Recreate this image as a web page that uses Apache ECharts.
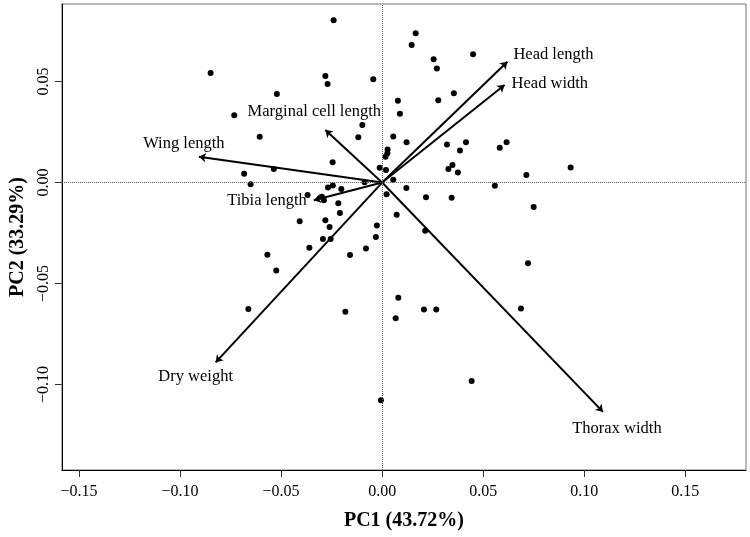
<!DOCTYPE html>
<html>
<head>
<meta charset="utf-8">
<script src="https://cdn.jsdelivr.net/npm/echarts@6/dist/echarts.min.js"></script>
<style>
html,body{margin:0;padding:0;background:#fff;}
#chart{width:750px;height:537px;}
</style>
</head>
<body>
<div id="chart"></div>
<script>
// Individual PCA scores (PC1, PC2)
var pc1 = [-0.0240,-0.0849,-0.0281,-0.0270,-0.0044,-0.0521,-0.0732,0.0078,0.0088,-0.0098,
  -0.0118,0.0055,0.0121,-0.0606,0.0027,0.0026,0.0017,-0.0245,-0.0012,0.0019,
  -0.0536,-0.0683,-0.0651,-0.0087,0.0055,0.0120,-0.0268,-0.0244,-0.0202,0.0022,
  -0.0369,-0.0298,-0.0288,-0.0217,-0.0209,0.0072,-0.0408,-0.0281,-0.0260,-0.0026,
  -0.0293,-0.0255,-0.0031,-0.0360,-0.0080,0.0166,0.0146,0.0255,0.0271,0.0450,
  0.0355,0.0278,0.0321,0.0415,0.0385,0.0582,0.0616,0.0348,0.0328,0.0375,
  0.0933,0.0714,0.0558,0.0217,0.0344,0.0750,0.0213,-0.0568,-0.0524,-0.0159,
  -0.0662,-0.0182,0.0080,0.0067,-0.0006,0.0722,0.0207,0.0268,0.0687,0.0443];
var pc2 = [0.0803,0.0542,0.0527,0.0488,0.0512,0.0438,0.0333,0.0405,0.0341,0.0285,
  0.0224,0.0228,0.0200,0.0227,0.0164,0.0145,0.0128,0.0101,0.0073,0.0062,
  0.0067,0.0044,-0.0008,0.0002,0.0014,-0.0027,-0.0024,-0.0014,-0.0032,-0.0058,
  -0.0062,-0.0070,-0.0087,-0.0103,-0.0151,-0.0159,-0.0192,-0.0186,-0.0220,-0.0212,
  -0.0280,-0.0280,-0.0270,-0.0323,-0.0326,0.0739,0.0681,0.0611,0.0565,0.0635,
  0.0442,0.0408,0.0189,0.0199,0.0159,0.0172,0.0200,0.0087,0.0067,0.0050,
  0.0075,0.0037,-0.0016,-0.0073,-0.0075,-0.0121,-0.0239,-0.0357,-0.0435,-0.0359,
  -0.0626,-0.0640,-0.0570,-0.0672,-0.1078,-0.0399,-0.0628,-0.0628,-0.0623,-0.0983];

// Variable loadings (arrows)
var variables = ['Head length','Head width','Marginal cell length','Wing length','Tibia length','Dry weight','Thorax width'];
var loadPC1 = [0.0620, 0.0606, -0.0281, -0.0907, -0.0338, -0.0824, 0.1093];
var loadPC2 = [0.0598, 0.0483, 0.0260, 0.0128, -0.0088, -0.0890, -0.1135];

// Axis tick values
var xTicks = [-0.15,-0.10,-0.05,0.00,0.05,0.10,0.15];
var yTicks = [-0.10,-0.05,0.00,0.05];

var xTitle = 'PC1 (43.72%)';
var yTitle = 'PC2 (33.29%)';

// label styling per variable (placement relative to arrow tip)
var labelStyle = {
  'Head length': {align:'left', offset:[6,-7]},
  'Head width': {align:'left', offset:[7,-1]},
  'Marginal cell length': {align:'center', offset:[-11,-18]},
  'Wing length': {align:'center', offset:[-15,-13]},
  'Tibia length': {align:'right', offset:[-7,0]},
  'Dry weight': {align:'center', offset:[-20,14]},
  'Thorax width': {align:'center', offset:[14,17]}
};

var FONT = '"Liberation Serif","DejaVu Serif",serif';
function fmt(v){
  var s = Math.abs(v).toFixed(2);
  return (v < -1e-9 ? '\u2212' : '') + s;
}

var points = pc1.map(function(x,i){ return [x, pc2[i]]; });
var arrows = variables.map(function(n,i){ return {name:n, coords:[[0,0],[loadPC1[i], loadPC2[i]]]}; });
var tips = variables.map(function(n,i){
  var st = labelStyle[n];
  return {name:n, value:[loadPC1[i], loadPC2[i]],
    label:{show:true, position:'inside', align:st.align, verticalAlign:'middle', offset:st.offset,
      formatter:n, color:'#000', textBorderWidth:0, textBorderColor:'transparent',
      fontFamily:FONT, fontSize:16.5}};
});

var chart = echarts.init(document.getElementById('chart'), null, {renderer:'canvas'});
chart.setOption({
  animation:false,
  backgroundColor:'#fff',
  grid:{left:61, right:4, top:4, bottom:67, show:true, borderColor:'#777', borderWidth:1, backgroundColor:'transparent'},
  xAxis:{
    type:'value', min:-0.1585, max:0.1801,
    name:xTitle, nameLocation:'middle', nameGap:41,
    nameTextStyle:{fontFamily:FONT, fontSize:20, fontWeight:'bold', color:'#000'},
    axisLine:{show:true, onZero:false, lineStyle:{color:'#000', width:1}},
    axisTick:{show:true, length:7, customValues:xTicks, lineStyle:{color:'#333'}},
    axisLabel:{customValues:xTicks, formatter:fmt, margin:14, fontFamily:FONT, fontSize:16, color:'#000'},
    splitLine:{show:false}
  },
  yAxis:{
    type:'value', min:-0.1423, max:0.0884,
    name:yTitle, nameLocation:'middle', nameGap:31,
    nameTextStyle:{fontFamily:FONT, fontSize:20, fontWeight:'bold', color:'#000'},
    axisLine:{show:true, onZero:false, lineStyle:{color:'#000', width:1}},
    axisTick:{show:true, length:7, customValues:yTicks, lineStyle:{color:'#333'}},
    axisLabel:{customValues:yTicks, formatter:fmt, rotate:90, margin:10, fontFamily:FONT, fontSize:16, color:'#000'},
    splitLine:{show:false}
  },
  series:[
    {
      type:'scatter', data:points, symbol:'circle', symbolSize:6,
      itemStyle:{color:'#000', opacity:1}, silent:true,
      markLine:{silent:true, symbol:'none', label:{show:false},
        lineStyle:{type:'dotted', color:'#555', width:1},
        data:[{xAxis:0},{yAxis:0}]}
    },
    {
      type:'lines', coordinateSystem:'cartesian2d', data:arrows,
      symbol:['none','arrow'], symbolSize:7,
      lineStyle:{color:'#000', width:2, opacity:1, curveness:0}, silent:true, z:3
    },
    {
      type:'scatter', data:tips, symbolSize:1, itemStyle:{color:'rgba(0,0,0,0)', opacity:1}, silent:true, z:4
    }
  ]
});
</script>
</body>
</html>
